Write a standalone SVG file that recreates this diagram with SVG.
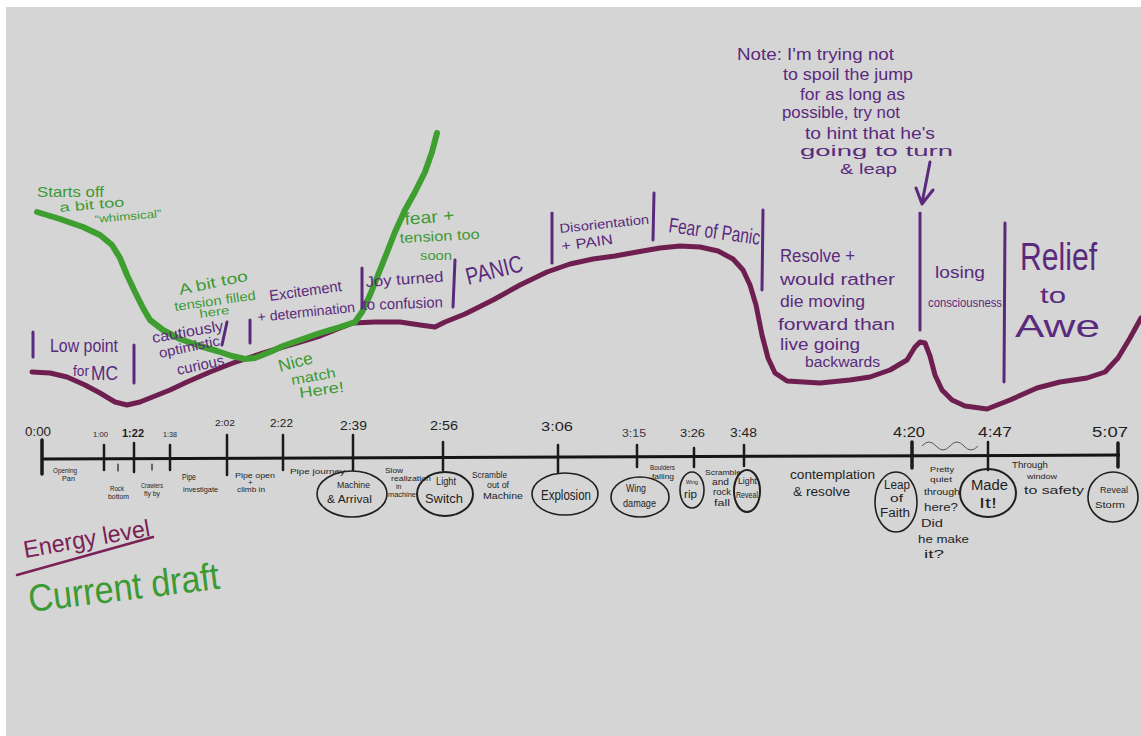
<svg xmlns="http://www.w3.org/2000/svg" width="1141" height="736" viewBox="0 0 1141 736">
<defs>
<style>
text{font-family:"Liberation Sans",Arial,sans-serif}
.k{fill:#1f1f1f}
.kl{fill:#3a3a3a}
.p{fill:#5a2a7c}
.m{fill:#7a2156}
.g{fill:#3c9a33}
.tick{stroke:#1a1a1a;stroke-width:2.5;stroke-linecap:round}
.div{stroke:#5a2a7c;stroke-width:3;stroke-linecap:round;fill:none}
.ell{fill:none;stroke:#1f1f1f;stroke-width:1.6}
</style>
</defs>
<rect x="0" y="0" width="1141" height="736" fill="#ffffff"/>
<rect x="6" y="7" width="1135" height="729" fill="#d5d5d5"/>

<g id="connectors">
<path id="energy-curve" d="M32,372 L50,373 L67,377 L85,385 L100,393 L115,402 L127,405 L140,402 L150,398 L170,390 L187,382 L210,372 L233,363 L260,354 L283,347 L300,342 L320,336 L340,328 L353,323 L375,322 L400,322 L420,325 L435,327 L445,322 L465,314 L493,300 L520,285 L547,272 L570,264 L593,259 L615,256 L637,252 L660,248 L680,246 L700,247 L718,251 L733,259 L743,270 L750,285 L756,305 L762,335 L768,358 L775,373 L787,381 L820,383 L850,380 L870,377 L890,370 L907,360 L915,347 L920,342 L925,343 L930,356 L935,375 L942,390 L952,400 L965,406 L987,409 L1010,400 L1037,388 L1060,382 L1087,378 L1105,372 L1118,358 L1130,338 L1141,318" fill="none" stroke="#6e1f50" stroke-width="5" stroke-linejoin="round" stroke-linecap="round"/>
<path id="draft-curve" d="M37,212 L60,219 L83,227 L100,235 L112,245 L120,258 L127,275 L135,292 L143,308 L150,320 L163,330 L180,339 L200,346 L217,351 L232,356 L245,359 L255,358 L270,352 L283,346 L300,340 L320,333 L340,327 L355,322 L362,312 L370,295 L378,275 L386,255 L395,232 L405,210 L415,192 L425,172 L432,152 L437,133" fill="none" stroke="#3e9e30" stroke-width="6" stroke-linejoin="round" stroke-linecap="round"/>
<path id="timeline-axis" d="M42,459 L1120,455" stroke="#151515" stroke-width="3" fill="none"/>
<path id="wave" d="M922,446 q7,-8 14,0 t14,0 t14,0 t14,0" fill="none" stroke="#555" stroke-width="1"/>
<path id="note-arrow" d="M930,162 L922,203 M916,188 L922,204 L933,190" fill="none" stroke="#5a2a7c" stroke-width="3" stroke-linecap="round" stroke-linejoin="round"/>
</g>

<g id="ticks">
<line class="tick" x1="42" y1="440" x2="42" y2="474" style="stroke-width:3.5"/>
<line class="tick" x1="104" y1="445" x2="104" y2="470"/>
<line class="tick" x1="134" y1="443" x2="134" y2="472"/>
<line class="tick" x1="170" y1="445" x2="170" y2="470"/>
<line class="tick" x1="227" y1="435" x2="227" y2="475"/>
<line class="tick" x1="283" y1="435" x2="283" y2="470"/>
<line class="tick" x1="353" y1="435" x2="353" y2="470"/>
<line class="tick" x1="443" y1="442" x2="443" y2="470"/>
<line class="tick" x1="558" y1="445" x2="558" y2="472"/>
<line class="tick" x1="637" y1="445" x2="637" y2="467"/>
<line class="tick" x1="694" y1="448" x2="694" y2="467"/>
<line class="tick" x1="744" y1="445" x2="744" y2="466"/>
<line class="tick" x1="912" y1="442" x2="912" y2="468" style="stroke-width:3.5"/>
<line class="tick" x1="988" y1="442" x2="988" y2="470"/>
<line class="tick" x1="1118" y1="443" x2="1118" y2="467" style="stroke-width:3.5"/>
<line class="tick" x1="118" y1="464" x2="118" y2="471" style="stroke-width:1.2"/>
<line class="tick" x1="152" y1="464" x2="152" y2="470" style="stroke-width:1.2"/>
</g>

<g id="timestamps">
<text class="k" x="25" y="436" font-size="12" textLength="26" lengthAdjust="spacingAndGlyphs">0:00</text>
<text class="k" x="93" y="437" font-size="8" textLength="15" lengthAdjust="spacingAndGlyphs">1:00</text>
<text class="k" x="122" y="437" font-size="11" font-weight="bold" textLength="22" lengthAdjust="spacingAndGlyphs">1:22</text>
<text class="k" x="163" y="437" font-size="8" textLength="14" lengthAdjust="spacingAndGlyphs">1:38</text>
<text class="k" x="215" y="426" font-size="9" textLength="20" lengthAdjust="spacingAndGlyphs">2:02</text>
<text class="k" x="270" y="427" font-size="10" textLength="23" lengthAdjust="spacingAndGlyphs">2:22</text>
<text class="k" x="340" y="430" font-size="13" textLength="27" lengthAdjust="spacingAndGlyphs">2:39</text>
<text class="k" x="430" y="430" font-size="13" textLength="28" lengthAdjust="spacingAndGlyphs">2:56</text>
<text class="k" x="541" y="431" font-size="13" textLength="32" lengthAdjust="spacingAndGlyphs">3:06</text>
<text class="kl" x="622" y="437" font-size="11" textLength="24" lengthAdjust="spacingAndGlyphs">3:15</text>
<text class="k" x="680" y="437" font-size="11" textLength="25" lengthAdjust="spacingAndGlyphs">3:26</text>
<text class="k" x="730" y="437" font-size="13" textLength="27" lengthAdjust="spacingAndGlyphs">3:48</text>
<text class="k" x="893" y="437" font-size="14" textLength="32" lengthAdjust="spacingAndGlyphs">4:20</text>
<text class="k" x="978" y="437" font-size="14" textLength="34" lengthAdjust="spacingAndGlyphs">4:47</text>
<text class="k" x="1092" y="437" font-size="14" textLength="36" lengthAdjust="spacingAndGlyphs">5:07</text>
</g>

<g id="beat-labels">
<text class="k" x="53" y="473" font-size="7" textLength="24" lengthAdjust="spacingAndGlyphs">Opening</text>
<text class="k" x="62" y="481" font-size="7" textLength="13" lengthAdjust="spacingAndGlyphs">Pan</text>
<text class="k" x="110" y="491" font-size="7" textLength="14" lengthAdjust="spacingAndGlyphs">Rock</text>
<text class="k" x="108" y="499" font-size="7" textLength="21" lengthAdjust="spacingAndGlyphs">bottom</text>
<text class="k" x="141" y="488" font-size="7" textLength="22" lengthAdjust="spacingAndGlyphs">Crawlers</text>
<text class="k" x="144" y="496" font-size="7" textLength="16" lengthAdjust="spacingAndGlyphs">fly by</text>
<text class="k" x="182" y="480" font-size="9" textLength="14" lengthAdjust="spacingAndGlyphs">Pipe</text>
<text class="k" x="183" y="492" font-size="7" textLength="35" lengthAdjust="spacingAndGlyphs">investigate</text>
<text class="k" x="235" y="478" font-size="8" textLength="40" lengthAdjust="spacingAndGlyphs">Pipe open</text>
<text class="k" x="248" y="485" font-size="8">+</text>
<text class="k" x="237" y="492" font-size="8" textLength="28" lengthAdjust="spacingAndGlyphs">climb in</text>
<text class="k" x="290" y="474" font-size="8" textLength="55" lengthAdjust="spacingAndGlyphs">Pipe journey</text>
<text class="k" x="385" y="473" font-size="8" textLength="18" lengthAdjust="spacingAndGlyphs">Slow</text>
<text class="k" x="391" y="481" font-size="7" textLength="40" lengthAdjust="spacingAndGlyphs">realization</text>
<text class="k" x="396" y="489" font-size="7">in</text>
<text class="k" x="388" y="497" font-size="7" textLength="28" lengthAdjust="spacingAndGlyphs">machine</text>
<text class="k" x="472" y="478" font-size="9" textLength="35" lengthAdjust="spacingAndGlyphs">Scramble</text>
<text class="k" x="487" y="488" font-size="9" textLength="22" lengthAdjust="spacingAndGlyphs">out of</text>
<text class="k" x="483" y="499" font-size="9" textLength="40" lengthAdjust="spacingAndGlyphs">Machine</text>
<text class="k" x="650" y="470" font-size="7" textLength="25" lengthAdjust="spacingAndGlyphs">Boulders</text>
<text class="k" x="652" y="479" font-size="7" textLength="22" lengthAdjust="spacingAndGlyphs">falling</text>
<text class="k" x="705" y="475" font-size="7" textLength="36" lengthAdjust="spacingAndGlyphs">Scramble</text>
<text class="k" x="712" y="485" font-size="9" textLength="17" lengthAdjust="spacingAndGlyphs">and</text>
<text class="k" x="713" y="495" font-size="9" textLength="18" lengthAdjust="spacingAndGlyphs">rock</text>
<text class="k" x="714" y="506" font-size="9" textLength="16" lengthAdjust="spacingAndGlyphs">fall</text>
<text class="k" x="790" y="479" font-size="12" textLength="85" lengthAdjust="spacingAndGlyphs">contemplation</text>
<text class="k" x="793" y="496" font-size="12" textLength="57" lengthAdjust="spacingAndGlyphs">&amp; resolve</text>
<text class="k" x="930" y="472" font-size="8" textLength="24" lengthAdjust="spacingAndGlyphs">Pretty</text>
<text class="k" x="930" y="482" font-size="8" textLength="22" lengthAdjust="spacingAndGlyphs">quiet</text>
<text class="k" x="924" y="495" font-size="9" textLength="36" lengthAdjust="spacingAndGlyphs">through</text>
<text class="k" x="924" y="511" font-size="11" textLength="34" lengthAdjust="spacingAndGlyphs">here?</text>
<text class="k" x="921" y="527" font-size="10" textLength="22" lengthAdjust="spacingAndGlyphs">Did</text>
<text class="k" x="918" y="543" font-size="10" textLength="51" lengthAdjust="spacingAndGlyphs">he make</text>
<text class="k" x="924" y="558" font-size="11" textLength="20" lengthAdjust="spacingAndGlyphs">it?</text>
<text class="k" x="1012" y="468" font-size="9" textLength="36" lengthAdjust="spacingAndGlyphs">Through</text>
<text class="k" x="1027" y="479" font-size="8" textLength="30" lengthAdjust="spacingAndGlyphs">window</text>
<text class="k" x="1024" y="494" font-size="11" textLength="60" lengthAdjust="spacingAndGlyphs">to safety</text>
</g>

<g id="machine-arrival">
<ellipse class="ell" cx="352" cy="494" rx="35" ry="23"/>
<text class="k" x="337" y="488" font-size="9" textLength="33" lengthAdjust="spacingAndGlyphs">Machine</text>
<text class="k" x="327" y="503" font-size="10" textLength="45" lengthAdjust="spacingAndGlyphs">&amp; Arrival</text>
</g>
<g id="light-switch">
<ellipse class="ell" cx="445" cy="494" rx="28" ry="22" style="stroke-width:2"/>
<text class="k" x="436" y="485" font-size="10" textLength="20" lengthAdjust="spacingAndGlyphs">Light</text>
<text class="k" x="425" y="503" font-size="12" textLength="38" lengthAdjust="spacingAndGlyphs">Switch</text>
</g>
<g id="explosion">
<ellipse class="ell" cx="565" cy="494" rx="33" ry="21"/>
<text class="k" x="541" y="500" font-size="15" textLength="50" lengthAdjust="spacingAndGlyphs">Explosion</text>
</g>
<g id="wing-damage">
<ellipse class="ell" cx="640" cy="497" rx="29" ry="20"/>
<text class="k" x="626" y="492" font-size="10" textLength="20" lengthAdjust="spacingAndGlyphs">Wing</text>
<text class="k" x="623" y="507" font-size="10" textLength="33" lengthAdjust="spacingAndGlyphs">damage</text>
</g>
<g id="wing-rip">
<ellipse class="ell" cx="692" cy="490" rx="12" ry="18"/>
<text class="k" x="686" y="484" font-size="6" textLength="12" lengthAdjust="spacingAndGlyphs">Wing</text>
<text class="k" x="684" y="498" font-size="10" textLength="13" lengthAdjust="spacingAndGlyphs">rip</text>
</g>
<g id="light-reveal">
<ellipse class="ell" cx="747" cy="491" rx="13" ry="21" style="stroke-width:2"/>
<text class="k" x="738" y="484" font-size="9" textLength="19" lengthAdjust="spacingAndGlyphs">Light</text>
<text class="k" x="736" y="498" font-size="9" textLength="22" lengthAdjust="spacingAndGlyphs">Reveal</text>
</g>
<g id="leap-of-faith">
<ellipse class="ell" cx="896" cy="502" rx="21" ry="30"/>
<text class="k" x="884" y="489" font-size="12" textLength="26" lengthAdjust="spacingAndGlyphs">Leap</text>
<text class="k" x="890" y="502" font-size="11" textLength="13" lengthAdjust="spacingAndGlyphs">of</text>
<text class="k" x="880" y="517" font-size="12" textLength="30" lengthAdjust="spacingAndGlyphs">Faith</text>
</g>
<g id="made-it">
<ellipse class="ell" cx="988" cy="493" rx="28" ry="24" style="stroke-width:2"/>
<text class="k" x="971" y="490" font-size="14" textLength="37" lengthAdjust="spacingAndGlyphs">Made</text>
<text class="k" x="979" y="508" font-size="14" textLength="18" lengthAdjust="spacingAndGlyphs">It!</text>
</g>
<g id="reveal-storm">
<ellipse class="ell" cx="1113" cy="497" rx="25" ry="25"/>
<text class="k" x="1100" y="493" font-size="9" textLength="28" lengthAdjust="spacingAndGlyphs">Reveal</text>
<text class="k" x="1095" y="508" font-size="9" textLength="30" lengthAdjust="spacingAndGlyphs">Storm</text>
</g>

<g id="section-dividers">
<line class="div" x1="33" y1="332" x2="33" y2="357"/>
<line class="div" x1="134" y1="345" x2="134" y2="383"/>
<line class="div" x1="227" y1="322" x2="222" y2="345"/>
<line class="div" x1="250" y1="320" x2="250" y2="343"/>
<line class="div" x1="362" y1="268" x2="362" y2="308"/>
<line class="div" x1="455" y1="260" x2="453" y2="307"/>
<line class="div" x1="552" y1="213" x2="552" y2="263"/>
<line class="div" x1="654" y1="193" x2="653" y2="240"/>
<line class="div" x1="763" y1="210" x2="762" y2="290"/>
<line class="div" x1="920" y1="213" x2="920" y2="330"/>
<line class="div" x1="1005" y1="223" x2="1004" y2="382"/>
</g>

<g id="energy-labels">
<text class="p" x="50" y="352" font-size="18" textLength="68" lengthAdjust="spacingAndGlyphs">Low point</text>
<text class="p" x="73" y="376" font-size="15" textLength="16" lengthAdjust="spacingAndGlyphs">for</text>
<text class="p" x="91" y="380" font-size="20" textLength="27" lengthAdjust="spacingAndGlyphs">MC</text>
<text class="p" x="153" y="343" font-size="15" textLength="72" lengthAdjust="spacingAndGlyphs" transform="rotate(-10 153 343)">cautiously</text>
<text class="p" x="160" y="358" font-size="14" textLength="62" lengthAdjust="spacingAndGlyphs" transform="rotate(-12 160 358)">optimistic</text>
<text class="p" x="178" y="375" font-size="15" textLength="48" lengthAdjust="spacingAndGlyphs" transform="rotate(-12 178 375)">curious</text>
<text class="p" x="270" y="301" font-size="15" textLength="73" lengthAdjust="spacingAndGlyphs" transform="rotate(-8 270 301)">Excitement</text>
<text class="p" x="258" y="322" font-size="14" textLength="98" lengthAdjust="spacingAndGlyphs" transform="rotate(-6 258 322)">+ determination</text>
<text class="p" x="366" y="287" font-size="15" textLength="78" lengthAdjust="spacingAndGlyphs" transform="rotate(-4 366 287)">Joy turned</text>
<text class="p" x="363" y="310" font-size="15" textLength="80" lengthAdjust="spacingAndGlyphs" transform="rotate(-2 363 310)">to confusion</text>
<text class="p" x="468" y="285" font-size="24" textLength="58" lengthAdjust="spacingAndGlyphs" transform="rotate(-14 468 285)">PANIC</text>
<text class="p" x="560" y="233" font-size="13" textLength="90" lengthAdjust="spacingAndGlyphs" transform="rotate(-6 560 233)">Disorientation</text>
<text class="p" x="562" y="251" font-size="14" textLength="52" lengthAdjust="spacingAndGlyphs" transform="rotate(-8 562 251)">+ PAIN</text>
<text class="p" x="668" y="232" font-size="21" textLength="92" lengthAdjust="spacingAndGlyphs" transform="rotate(8 668 232)">Fear of Panic</text>
<text class="p" x="780" y="262" font-size="18" textLength="75" lengthAdjust="spacingAndGlyphs">Resolve +</text>
<text class="p" x="780" y="285" font-size="16" textLength="115" lengthAdjust="spacingAndGlyphs">would rather</text>
<text class="p" x="780" y="307" font-size="16" textLength="85" lengthAdjust="spacingAndGlyphs">die moving</text>
<text class="p" x="778" y="330" font-size="16" textLength="117" lengthAdjust="spacingAndGlyphs">forward than</text>
<text class="p" x="780" y="350" font-size="16" textLength="80" lengthAdjust="spacingAndGlyphs">live going</text>
<text class="p" x="805" y="367" font-size="14" textLength="75" lengthAdjust="spacingAndGlyphs">backwards</text>
<text class="p" x="935" y="278" font-size="16" textLength="50" lengthAdjust="spacingAndGlyphs">losing</text>
<text class="p" x="928" y="307" font-size="13" textLength="74" lengthAdjust="spacingAndGlyphs">consciousness</text>
<text class="p" x="1020" y="270" font-size="38" textLength="77" lengthAdjust="spacingAndGlyphs">Relief</text>
<text class="p" x="1040" y="303" font-size="22" textLength="26" lengthAdjust="spacingAndGlyphs">to</text>
<text class="p" x="1015" y="337" font-size="32" textLength="85" lengthAdjust="spacingAndGlyphs">Awe</text>
</g>

<g id="note">
<text class="p" x="737" y="60" font-size="17" textLength="157" lengthAdjust="spacingAndGlyphs">Note: I'm trying not</text>
<text class="p" x="783" y="80" font-size="17" textLength="130" lengthAdjust="spacingAndGlyphs">to spoil the jump</text>
<text class="p" x="800" y="100" font-size="17" textLength="105" lengthAdjust="spacingAndGlyphs">for as long as</text>
<text class="p" x="782" y="118" font-size="16" textLength="118" lengthAdjust="spacingAndGlyphs">possible, try not</text>
<text class="p" x="805" y="139" font-size="16" textLength="130" lengthAdjust="spacingAndGlyphs">to hint that he's</text>
<text class="p" x="800" y="156" font-size="15" textLength="153" lengthAdjust="spacingAndGlyphs">going to turn</text>
<text class="p" x="840" y="174" font-size="14" textLength="57" lengthAdjust="spacingAndGlyphs">&amp; leap</text>
</g>

<g id="draft-labels">
<text class="g" x="37" y="197" font-size="15" textLength="67" lengthAdjust="spacingAndGlyphs">Starts off</text>
<text class="g" x="60" y="212" font-size="13" textLength="65" lengthAdjust="spacingAndGlyphs" transform="rotate(-5 60 212)">a bit too</text>
<text class="g" x="95" y="223" font-size="11" textLength="67" lengthAdjust="spacingAndGlyphs" transform="rotate(-5 95 223)">“whimsical”</text>
<text class="g" x="180" y="295" font-size="15" textLength="70" lengthAdjust="spacingAndGlyphs" transform="rotate(-12 180 295)">A bit too</text>
<text class="g" x="175" y="311" font-size="13" textLength="82" lengthAdjust="spacingAndGlyphs" transform="rotate(-8 175 311)">tension filled</text>
<text class="g" x="200" y="318" font-size="12" textLength="30" lengthAdjust="spacingAndGlyphs" transform="rotate(-8 200 318)">here</text>
<text class="g" x="280" y="372" font-size="17" textLength="35" lengthAdjust="spacingAndGlyphs" transform="rotate(-15 280 372)">Nice</text>
<text class="g" x="292" y="385" font-size="14" textLength="45" lengthAdjust="spacingAndGlyphs" transform="rotate(-10 292 385)">match</text>
<text class="g" x="300" y="398" font-size="15" textLength="45" lengthAdjust="spacingAndGlyphs" transform="rotate(-8 300 398)">Here!</text>
<text class="g" x="405" y="225" font-size="17" textLength="50" lengthAdjust="spacingAndGlyphs" transform="rotate(-5 405 225)">fear +</text>
<text class="g" x="400" y="243" font-size="14" textLength="80" lengthAdjust="spacingAndGlyphs" transform="rotate(-3 400 243)">tension too</text>
<text class="g" x="420" y="260" font-size="13" textLength="32" lengthAdjust="spacingAndGlyphs">soon</text>
</g>

<g id="legend">
<text class="m" x="25" y="558" font-size="24" textLength="128" lengthAdjust="spacingAndGlyphs" transform="rotate(-10 25 558)">Energy level</text>
<path d="M17,575 L153,537" stroke="#7a2156" stroke-width="2.5" stroke-linecap="round" fill="none"/>
<text class="g" x="30" y="612" font-size="38" textLength="192" lengthAdjust="spacingAndGlyphs" transform="rotate(-7 30 612)">Current draft</text>
</g>
</svg>
